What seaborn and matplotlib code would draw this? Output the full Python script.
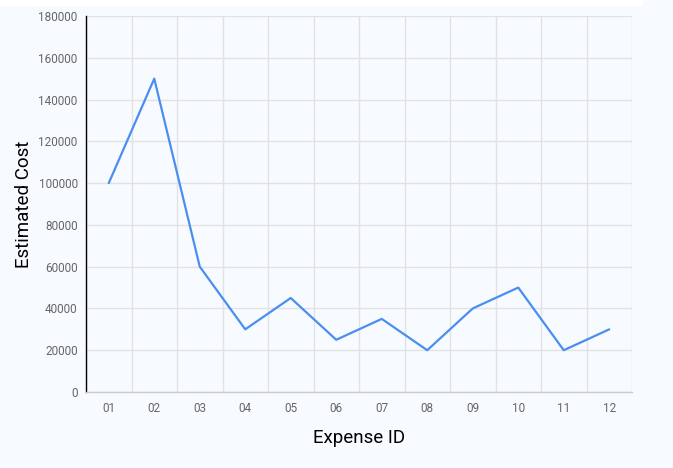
import seaborn as sns
import pandas as pd
import matplotlib.pyplot as plt
import numpy as np
from matplotlib.patches import Rectangle

expense_ids = ['01', '02', '03', '04', '05', '06', '07', '08', '09', '10', '11', '12']
estimated_cost = [100000, 150000, 60000, 30000, 45000, 25000, 35000, 20000, 40000, 50000, 20000, 30000]
y_ticks = [0, 20000, 40000, 60000, 80000, 100000, 120000, 140000, 160000, 180000]

bg = '#f7fbff'
sns.set_style('white')
plt.rcParams['font.family'] = ['Roboto', 'DejaVu Sans']

fig = plt.figure(figsize=(6.73, 4.68), dpi=100, facecolor=bg)
fig.patches.append(Rectangle((0, 468 - 5), 642, 5, transform=None, color='white', zorder=-1))
ax = fig.add_axes([86 / 673, 76 / 468, 546 / 673, 376 / 468])
ax.set_facecolor(bg)

df = pd.DataFrame({'Expense ID': expense_ids, 'Estimated Cost': estimated_cost})
sns.lineplot(data=df, x='Expense ID', y='Estimated Cost', color='#4a8ef2', linewidth=1.6, ax=ax)

n = len(expense_ids)
ax.set_xlim(-0.5, n - 0.5)
ax.set_ylim(0, 180000)
ax.set_xticks(range(n))
ax.set_xticklabels(expense_ids)
ax.set_xticks(np.arange(-0.5, n, 1), minor=True)
ax.set_yticks(y_ticks)
ax.set_yticklabels([str(v) for v in y_ticks])

ax.grid(True, which='minor', axis='x', color='#e2e2e2', linewidth=1)
ax.grid(True, which='major', axis='y', color='#e2e2e2', linewidth=1)
ax.grid(False, which='major', axis='x')
ax.set_axisbelow(True)

ax.tick_params(axis='x', which='major', length=0, pad=7, labelsize=8.5, labelcolor='#666666')
ax.tick_params(axis='x', which='minor', length=5, color='#cccccc', width=1)
ax.tick_params(axis='y', which='major', length=5, color='#cccccc', width=1, pad=1,
               labelsize=8.5, labelcolor='#666666')

for s in ['top', 'right']:
    ax.spines[s].set_visible(False)
ax.spines['left'].set_color('black')
ax.spines['left'].set_linewidth(1)
ax.spines['bottom'].set_color('#cccccc')
ax.spines['bottom'].set_linewidth(1)

ax.set_xlabel('Expense ID', fontsize=13.5, color='black', labelpad=10)
ax.set_ylabel('Estimated Cost', fontsize=13.5, color='black', labelpad=4)

fig.savefig('out.png', dpi=100, facecolor=bg)
